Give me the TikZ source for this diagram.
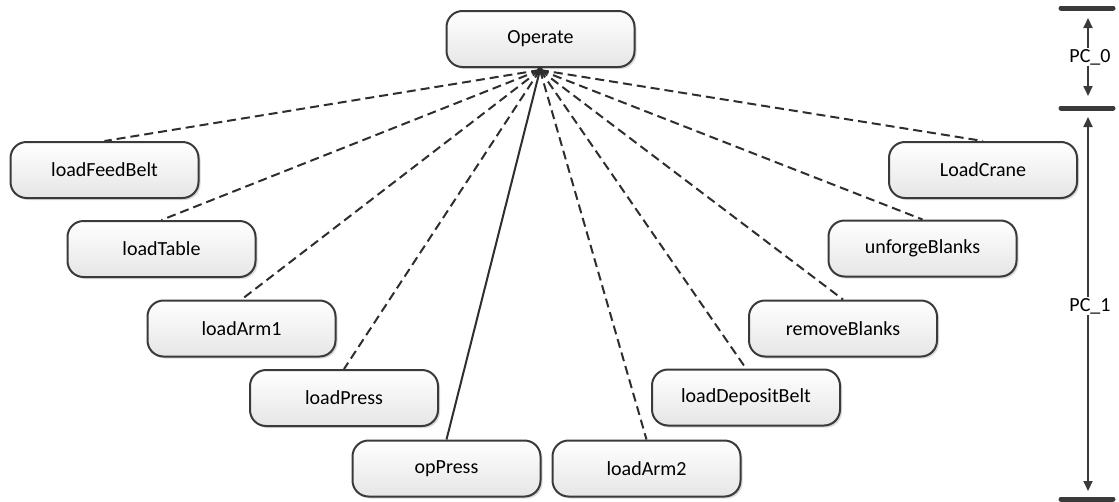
\documentclass[tikz,border=0pt]{standalone}
\usepackage{fontspec}
\setmainfont{Carlito}
\usetikzlibrary{shadows,arrows.meta}
\definecolor{edgegray}{HTML}{2E2E2E}
\definecolor{boxgray}{HTML}{3A3A3A}
\tikzset{
  task/.style={draw=boxgray, line width=2pt, rounded corners=16pt,
    minimum width=188pt, minimum height=56pt, inner sep=0pt,
    top color=white, bottom color=black!10,
    drop shadow={shadow xshift=2pt, shadow yshift=-2pt, opacity=0.25, fill=black!60},
    font=\fontsize{20}{24}\selectfont},
  dep/.style={draw=edgegray, line width=2pt, dash pattern=on 9pt off 5pt},
  solidedge/.style={draw=edgegray, line width=2pt},
  bar/.style={draw=boxgray, line width=5pt, line cap=round},
  span/.style={draw=boxgray, line width=2pt, -{Triangle[length=10pt,width=9pt]}},
  pclabel/.style={font=\fontsize{20}{24}\selectfont, inner sep=1pt}
}
\begin{document}
\begin{tikzpicture}[x=1pt,y=-1pt]
\useasboundingbox (0,0) rectangle (1119,501);
\node[task] (op) at (540.5,39) {Operate};
\node[task] (lfb) at (104.5,170) {loadFeedBelt};
\node[task] (lt) at (161.5,249) {loadTable};
\node[task] (la1) at (241.5,328.5) {loadArm1};
\node[task] (lp) at (344,398) {loadPress};
\node[task] (opp) at (446.5,468.5) {opPress};
\node[task] (la2) at (646.5,468.5) {loadArm2};
\node[task] (ldb) at (746,397.5) {loadDepositBelt};
\node[task] (rb) at (843,328.5) {removeBlanks};
\node[task] (ub) at (922.5,248.5) {unforgeBlanks};
\node[task] (lc) at (983,170) {LoadCrane};
\coordinate (hub) at (540,70);
\foreach \n in {lfb,lt,la1,lp,la2,ldb,rb,ub,lc}{
  \draw[dep] (hub) -- (\n.north);
}
\draw[solidedge] (hub) -- (opp.north);
\fill[edgegray] (hub) circle (3pt);
% PC scale
\coordinate (b0l) at (1061,8);
\coordinate (b0r) at (1113,8);
\coordinate (b1l) at (1061,108);
\coordinate (b1r) at (1113,108);
\coordinate (b2l) at (1061,499);
\coordinate (b2r) at (1113,499);
\draw[bar] (b0l) -- (b0r);
\draw[bar] (b1l) -- (b1r);
\draw[bar] (b2l) -- (b2r);
\node[pclabel] (pc0) at (1090,57) {PC\_0};
\node[pclabel] (pc1) at (1090,306) {PC\_1};
\coordinate (t0) at (1088,18);
\coordinate (t1) at (1088,96);
\coordinate (t2) at (1088,117);
\coordinate (t3) at (1088,491);
\draw[span] (pc0.north -| t0) -- (t0);
\draw[span] (pc0.south -| t1) -- (t1);
\draw[span] (pc1.north -| t2) -- (t2);
\draw[span] (pc1.south -| t3) -- (t3);
\end{tikzpicture}
\end{document}
